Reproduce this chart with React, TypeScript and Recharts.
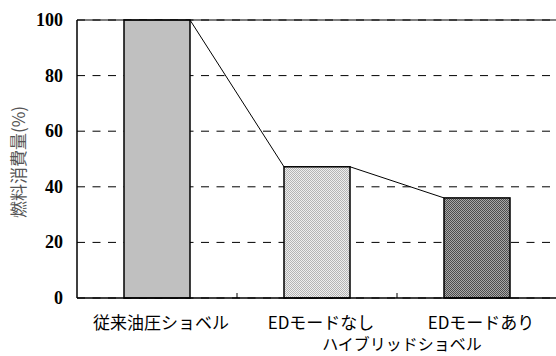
import { BarChart, Bar, XAxis, YAxis, CartesianGrid, ReferenceLine, Cell } from "recharts";

const categories = ["従来油圧ショベル", "EDモードなし", "EDモードあり"];
const fuelUse = [100, 47.2, 36];
const yTicks = [0, 20, 40, 60, 80, 100];
const groupLabel = "ハイブリッドショベル";
const yLabel = "燃料消費量(%)";

const fills = ["#c0c0c0", "url(#dotLight)", "url(#dotDark)"];

const data = categories.map((name, i) => ({ name, value: fuelUse[i] }));

const W = 560;
const H = 356;
const margin = { top: 20, right: 3, left: 0, bottom: 0 };
const yAxisWidth = 77;
const plotW = W - margin.left - margin.right - yAxisWidth;
const step = plotW / categories.length;

const jpFont = "'Noto Sans CJK JP', 'Noto Sans', sans-serif";
const numFont = "'Times New Roman', 'Liberation Serif', serif";

// bar body plus the series line running to the next bar's top-left corner
function BarWithLink(props: any) {
  const { x, y, width, height, index, fill } = props;
  const v = fuelUse[index];
  const next = fuelUse[index + 1];
  let link = null;
  if (next !== undefined && v > 0) {
    const base = y + height;
    const ny = base - next * (height / v);
    link = <line x1={x + width} y1={y} x2={x + step} y2={ny} stroke="#000" strokeWidth={1} />;
  }
  return (
    <g>
      <rect x={x} y={y} width={width} height={height} fill={fill} stroke="#000" strokeWidth={1.5} />
      {link}
    </g>
  );
}

function CatTick(props: any) {
  const { x, y, payload } = props;
  const i = payload.index;
  return (
    <g>
      <text x={x + 4} y={y + 31} textAnchor="middle" style={{ fontFamily: jpFont, fontSize: 17 }} fill="#000">
        {payload.value}
      </text>
      {i < categories.length - 1 && (
        <line x1={x + step / 2} y1={y} x2={x + step / 2} y2={y - 5} stroke="#000" strokeWidth={1} />
      )}
      {i === 1 && (
        <text x={x + step / 2 + 5} y={y + 52} textAnchor="middle" style={{ fontFamily: jpFont, fontSize: 16 }} fill="#000">
          {groupLabel}
        </text>
      )}
    </g>
  );
}

function ValueTick(props: any) {
  const { x, y, payload } = props;
  return (
    <text x={x} y={y + 6} textAnchor="end" style={{ fontFamily: numFont, fontWeight: 700, fontSize: 18 }} fill="#000">
      {payload.value}
    </text>
  );
}

export default function App() {
  return (
    <div style={{ position: "absolute", left: 0, top: 0, width: 556, height: 356, overflow: "hidden", background: "#fff" }}>
      <BarChart width={W} height={H} data={data} margin={margin} barCategoryGap={0}>
        <defs>
          <pattern id="dotLight" width="2" height="2" patternUnits="userSpaceOnUse">
            <rect width="2" height="2" fill="#eeeeee" />
            <rect width="1" height="1" fill="#b4b4b4" />
            <rect x="1" y="1" width="1" height="1" fill="#b4b4b4" />
          </pattern>
          <pattern id="dotDark" width="2" height="2" patternUnits="userSpaceOnUse">
            <rect width="2" height="2" fill="#a8a8a8" />
            <rect width="1" height="1" fill="#4c4c4c" />
            <rect x="1" y="1" width="1" height="1" fill="#4c4c4c" />
          </pattern>
        </defs>
        <CartesianGrid vertical={false} stroke="#000" strokeDasharray="8 7.5" strokeWidth={1} />
        <XAxis
          dataKey="name"
          axisLine={{ stroke: "#000", strokeWidth: 1.5 }}
          tickLine={false}
          tickSize={0}
          tickMargin={0}
          height={58}
          interval={0}
          tick={<CatTick />}
        />
        <YAxis
          domain={[0, 100]}
          ticks={yTicks}
          width={yAxisWidth}
          axisLine={{ stroke: "#000", strokeWidth: 1.5 }}
          tickLine={false}
          tickSize={0}
          tickMargin={14}
          tick={<ValueTick />}
          label={{
            content: ({ viewBox }: any) => {
              const cx = 17;
              const cy = viewBox.y + viewBox.height / 2 + 3;
              return (
                <text
                  x={cx}
                  y={cy}
                  transform={`rotate(-90 ${cx} ${cy})`}
                  textAnchor="middle"
                  dominantBaseline="central"
                  style={{ fontFamily: jpFont, fontSize: 17 }}
                  fill="#555"
                >
                  {yLabel}
                </text>
              );
            },
          }}
        />
        <ReferenceLine y={100} stroke="#000" strokeWidth={1.2} />
        <Bar dataKey="value" barSize={66} isAnimationActive={false} shape={<BarWithLink />}>
          {data.map((d, i) => (
            <Cell key={d.name} fill={fills[i]} />
          ))}
        </Bar>
      </BarChart>
    </div>
  );
}
